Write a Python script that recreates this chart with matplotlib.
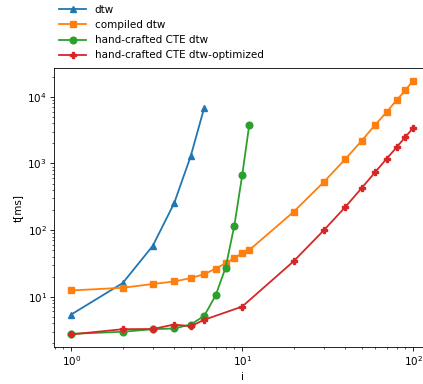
import matplotlib
matplotlib.use("Agg")
import matplotlib.pyplot as plt

# measured runtimes in ms
x_dtw = [1, 2, 3, 4, 5, 6]
t_dtw = [5.4, 16, 58, 253, 1285, 6900]

x_compiled = [1, 2, 3, 4, 5, 6, 7, 8, 9, 10, 11, 20, 30, 40, 50, 60, 70, 80, 90, 100]
t_compiled = [12.4, 13.6, 15.5, 16.9, 19, 21.8, 26.4, 31.8, 38, 44.9, 50,
              188, 525, 1150, 2190, 3800, 5900, 8900, 12500, 17500]

x_cte = [1, 2, 3, 4, 5, 6, 7, 8, 9, 10, 11]
t_cte = [2.77, 2.97, 3.25, 3.33, 3.82, 5.15, 10.5, 27.3, 117, 660, 3800]

x_opt = [1, 2, 3, 4, 5, 6, 10, 20, 30, 40, 50, 60, 70, 80, 90, 100]
t_opt = [2.71, 3.25, 3.27, 3.82, 3.6, 4.5, 7.1, 34, 99, 220, 427, 740, 1180, 1740, 2500, 3400]

# figure was rendered at a low dpi, scale everything down a bit
s = 0.75
plt.rcParams.update({
    'font.size': 10 * s,
    'lines.linewidth': 1.3,
    'lines.markersize': 4.8,
    'axes.linewidth': 0.8 * s,
    'xtick.major.size': 3.5 * s, 'ytick.major.size': 3.5 * s,
    'xtick.minor.size': 2 * s, 'ytick.minor.size': 2 * s,
    'xtick.major.pad': 3.5 * s, 'ytick.major.pad': 3.5 * s,
    'xtick.major.width': 0.8 * s, 'ytick.major.width': 0.8 * s,
    'xtick.minor.width': 0.6 * s, 'ytick.minor.width': 0.6 * s,
    'axes.labelpad': 4 * s,
})

fig = plt.figure(figsize=(4.23, 3.84), dpi=100)
ax = fig.add_axes([0.128, 0.096, 0.889, 0.727])

ax.plot(x_dtw, t_dtw, marker='^', label='dtw')
ax.plot(x_compiled, t_compiled, marker='s', label='compiled dtw')
ax.plot(x_cte, t_cte, marker='o', label='hand-crafted CTE dtw')
ax.plot(x_opt, t_opt, marker='P', label='hand-crafted CTE dtw-optimized')

ax.set_xscale('log')
ax.set_yscale('log')
ax.set_xlabel('i')
ax.set_ylabel('t[ms]')

fig.legend(loc='upper left', bbox_to_anchor=(0.118, 1.012), frameon=False,
           handlelength=2.6, labelspacing=0.5)

fig.savefig('out.png', dpi=100)
